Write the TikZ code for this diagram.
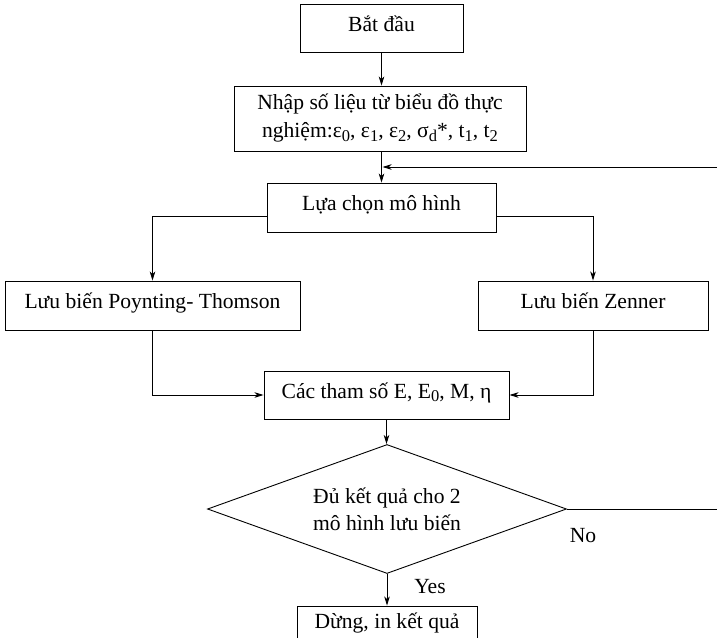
\documentclass[tikz,border=0pt]{standalone}
\usepackage{fontspec}
\setmainfont{Liberation Serif}
\usetikzlibrary{arrows.meta,shapes.geometric}
\newcommand\lowsub[1]{\raisebox{-0.35ex}{\fontsize{16.5}{16.5}\selectfont #1}}
\tikzset{
  boxbase/.style={draw, line width=0.9pt, rectangle, inner sep=0pt, font=\fontsize{21.6}{28}\selectfont},
  box/.style={boxbase, text height=12pt, text depth=6pt},
  dia/.style={draw, line width=0.9pt, diamond, inner sep=0pt, shape aspect=2.78, align=center, font=\fontsize{21.6}{27}\selectfont},
  lbl/.style={inner sep=0pt, font=\fontsize{21.6}{25}\selectfont},
  arr/.style={line width=0.9pt, -{Stealth[length=9pt,width=5.5pt,inset=2.5pt]}}
}
\begin{document}
\begin{tikzpicture}[x=1pt,y=-1pt]
\clip (0,0) rectangle (717,637);
\fill[white] (0,0) rectangle (717,637);
% boxes
\node[box, minimum width=163pt, minimum height=48pt] (start) at (381.5,28) {Bắt đầu};
\node[boxbase, minimum width=292pt, minimum height=65pt, align=center] (input) at (380,118.5)
  {Nhập số liệu từ biểu đồ thực\\nghiệm:ε\lowsub{0}, ε\lowsub{1}, ε\lowsub{2}, σ\lowsub{d}*, t\lowsub{1}, t\lowsub{2}};
\node[box, minimum width=229pt, minimum height=49pt] (choose) at (381.5,207.5) {Lựa chọn mô hình};
\node[box, minimum width=295pt, minimum height=49pt] (pt) at (152.5,305.5) {Lưu biến Poynting- Thomson};
\node[box, minimum width=230pt, minimum height=49pt] (zen) at (593,305.5) {Lưu biến Zenner};
\node[box, minimum width=245pt, minimum height=48pt] (params) at (386.5,395) {Các tham số E, E\lowsub{0}, M, η};
\node[dia, minimum width=359pt, minimum height=129pt] (dec) at (387,509) {Đủ kết quả cho 2\\mô hình lưu biến};
\node[box, minimum width=180pt, minimum height=38pt] (stop) at (387,625) {Dừng, in kết quả};
\node[lbl] (no) at (583,536) {No};
\node[lbl] (yes) at (430,587) {Yes};
\coordinate (join) at (382.5,167);
% connectors
\draw[arr] (start.south) -- (start.south |- input.north);
\draw[arr] (input.south -| choose.north) -- (choose.north);
\draw[arr] (dec.east) -- ++(200,0) |- (join);
\draw[arr] ([yshift=-8.5pt]choose.west) -| (pt.north);
\draw[arr] ([yshift=-8.5pt]choose.east) -| (zen.north);
\draw[arr] (pt.south) |- (params.west);
\draw[arr] (zen.south) |- (params.east);
\draw[arr] (params.south) -- (params.south |- dec.north);
\draw[arr] (dec.south) -- (stop.north);
\end{tikzpicture}
\end{document}
